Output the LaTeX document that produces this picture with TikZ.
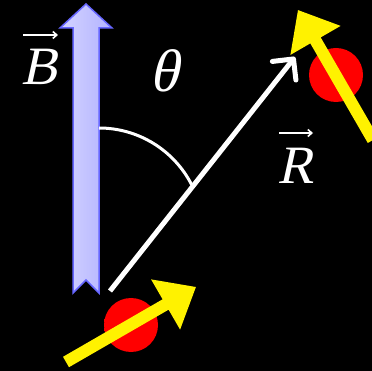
\documentclass[tikz,border=0pt]{standalone}
\usepackage{fontspec}
\setmainfont{Liberation Serif}
\newfontfamily\labelfont{Liberation Serif}[FakeSlant=0.22]
\usetikzlibrary{arrows.meta}

\pgfdeclareradialshading{spinball}{\pgfpoint{-12bp}{12bp}}{%
  color(0bp)=(red); color(38bp)=(red); color(60bp)=(red!35!black)}

\tikzset{
  label text/.style={text=white, font=\labelfont\fontsize{54}{54}\selectfont, inner sep=0pt},
  vec bar/.style={draw=white, line width=1.6pt, -{Straight Barb[length=4pt, width=7pt]}},
  particle/.style={shading=spinball},
  spin/.style={fill=yellow},
}

\begin{document}
\begin{tikzpicture}[x=1pt, y=-1pt]
  % --- Canvas ---
  \fill[black] (0,0) rectangle (372,371);
  \useasboundingbox (0,0) rectangle (372,371);

  % --- Field arrow B ---
  \draw[draw=blue!60, line width=1.5pt, left color=blue!17, right color=blue!30]
    (73,293) -- (73,28) -- (60,28) -- (86,4) -- (112,28) -- (99,28)
    -- (99,293) -- (86,280) -- cycle;
  \node[label text] (Blab) at (40,67) {B};
  \draw[vec bar] ([shift={(-17,-32)}]Blab.center) -- ([shift={(18,-32)}]Blab.center);

  % --- Angle theta ---
  \node[label text, font=\labelfont\fontsize{60}{60}\selectfont] (theta) at (164,71) {θ};
  \draw[white, line width=3pt] (99,128) arc[start angle=-90, end angle=-27, radius=104];

  % --- Separation vector R ---
  \coordinate (origin) at (110,291);
  \coordinate (Rtip) at (295,57);
  \draw[white, line width=5pt, -{Straight Barb[length=15pt, width=30pt, round]}]
    (origin) -- (Rtip);
  \node[label text] (Rlab) at (296,166) {R};
  \draw[vec bar] ([shift={(-17,-33)}]Rlab.center) -- ([shift={(17,-33)}]Rlab.center);

  % --- Spin 1 (bottom) ---
  \shade[particle] (131,325) circle[radius=27];
  \begin{scope}[shift={(66,362)}, rotate=30]
    \fill[spin] (0,-6) -- (115,-6) -- (115,-29) -- (150,0) -- (115,29) -- (115,6) -- (0,6) -- cycle;
  \end{scope}

  % --- Spin 2 (top right) ---
  \shade[particle] (336,75) circle[radius=27];
  \begin{scope}[shift={(373,140)}, rotate=120]
    \fill[spin] (0,-6) -- (115,-6) -- (115,-29) -- (150,0) -- (115,29) -- (115,6) -- (0,6) -- cycle;
  \end{scope}
\end{tikzpicture}
\end{document}
